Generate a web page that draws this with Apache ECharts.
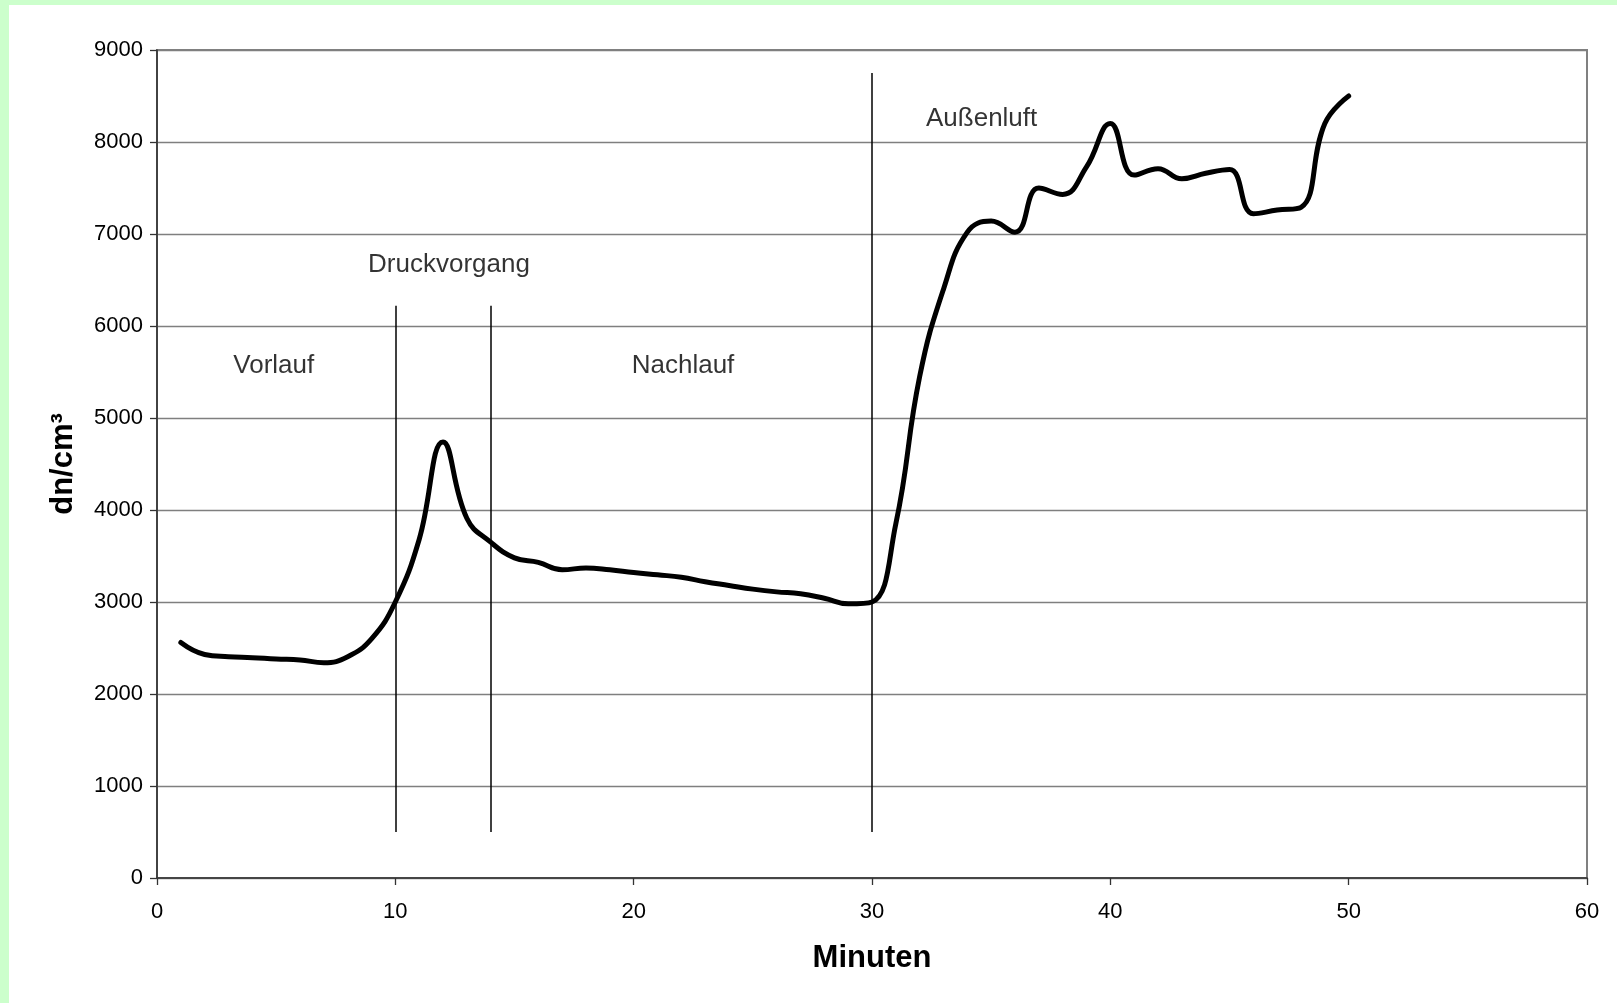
<!DOCTYPE html>
<html>
<head>
<meta charset="utf-8">
<script src="https://cdn.jsdelivr.net/npm/echarts@6/dist/echarts.min.js"></script>
<style>
  html, body { margin: 0; padding: 0; background: #ccffcc; width: 1617px; height: 1003px; overflow: hidden; }
  #chart { position: absolute; left: 9px; top: 5px; width: 1608px; height: 998px; background: #ffffff; }
</style>
</head>
<body>
<div id="chart"></div>
<script>
// ---- data ----
const minutes = [1,2,3,4,5,6,7,8,9,10,11,12,13,14,15,16,17,18,19,20,21,22,23,24,25,26,27,28,29,30,31,32,33,34,35,36,37,38,39,40,41,42,43,44,45,46,47,48,49,50];
const particles = [2560,2430,2405,2395,2380,2370,2340,2405,2600,3000,3680,4740,3910,3650,3480,3430,3350,3370,3350,3320,3295,3270,3220,3180,3140,3110,3090,3040,2980,3000,3850,5450,6400,7020,7140,7020,7500,7430,7730,8200,7640,7710,7600,7660,7700,7220,7260,7290,8200,8500];

const xTicks = [0,10,20,30,40,50,60];
const yTicks = [0,1000,2000,3000,4000,5000,6000,7000,8000,9000];

// phase divider lines (x in minutes, y range in dn/cm³)
const dividerX = [10, 14, 30];
const dividerBottom = [500, 500, 500];
const dividerTop = [6220, 6220, 8750];

// phase annotations
const phaseNames = ['Vorlauf', 'Druckvorgang', 'Nachlauf', 'Außenluft'];
const phaseX = [4.9, 12.25, 22.07, 34.6];
const phaseY = [5570, 6670, 5570, 8250];

const FONT = '"Liberation Sans", Arial, Helvetica, sans-serif';

const chart = echarts.init(document.getElementById('chart'), null, { renderer: 'canvas' });
chart.setOption({
  animation: false,
  backgroundColor: '#ffffff',
  grid: {
    left: 148, top: 45, right: 30, bottom: 125,
    show: true, borderColor: '#808080', borderWidth: 2, backgroundColor: 'transparent'
  },
  xAxis: {
    type: 'value',
    min: xTicks[0], max: xTicks[xTicks.length - 1], interval: xTicks[1] - xTicks[0],
    axisLine: { show: true, onZero: false, lineStyle: { color: '#333333', width: 1.6 } },
    axisTick: { show: true, length: 7, lineStyle: { color: '#333333', width: 1.3 } },
    axisLabel: { fontSize: 22, color: '#000', fontFamily: FONT, margin: 23, formatter: v => String(v) },
    splitLine: { show: false },
    name: 'Minuten', nameLocation: 'middle', nameGap: 65,
    nameTextStyle: { fontSize: 31, fontWeight: 'bold', color: '#000', fontFamily: FONT }
  },
  yAxis: {
    type: 'value',
    min: yTicks[0], max: yTicks[yTicks.length - 1], interval: yTicks[1] - yTicks[0],
    axisLine: { show: true, onZero: false, lineStyle: { color: '#333333', width: 1.6 } },
    axisTick: { show: true, length: 7, lineStyle: { color: '#333333', width: 1.3 } },
    axisLabel: { fontSize: 22, color: '#000', fontFamily: FONT, margin: 14, formatter: v => String(v) },
    splitLine: { show: true, lineStyle: { color: '#7f7f7f', width: 1.3 } },
    name: 'dn/cm³', nameLocation: 'middle', nameGap: 78, nameRotate: 90,
    nameTextStyle: { fontSize: 31, fontWeight: 'bold', color: '#000', fontFamily: FONT }
  },
  series: [
    {
      type: 'line',
      data: minutes.map((m, i) => [m, particles[i]]),
      smooth: 0.45,
      symbol: 'none',
      lineStyle: { color: '#000000', width: 5, cap: 'round', join: 'round' },
      z: 5,
      markLine: {
        silent: true,
        symbol: ['none', 'none'],
        label: { show: false },
        lineStyle: { color: '#000000', width: 1.5, type: 'solid' },
        data: dividerX.map((x, i) => [
          { coord: [x, dividerBottom[i]] },
          { coord: [x, dividerTop[i]] }
        ])
      }
    },
    {
      type: 'scatter',
      silent: true,
      symbolSize: 0,
      data: phaseNames.map((n, i) => ({ name: n, value: [phaseX[i], phaseY[i]] })),
      label: {
        show: true, position: 'inside', formatter: '{b}',
        fontSize: 26, color: '#000000', fontFamily: FONT
      },
      z: 6
    }
  ]
});
</script>
</body>
</html>
